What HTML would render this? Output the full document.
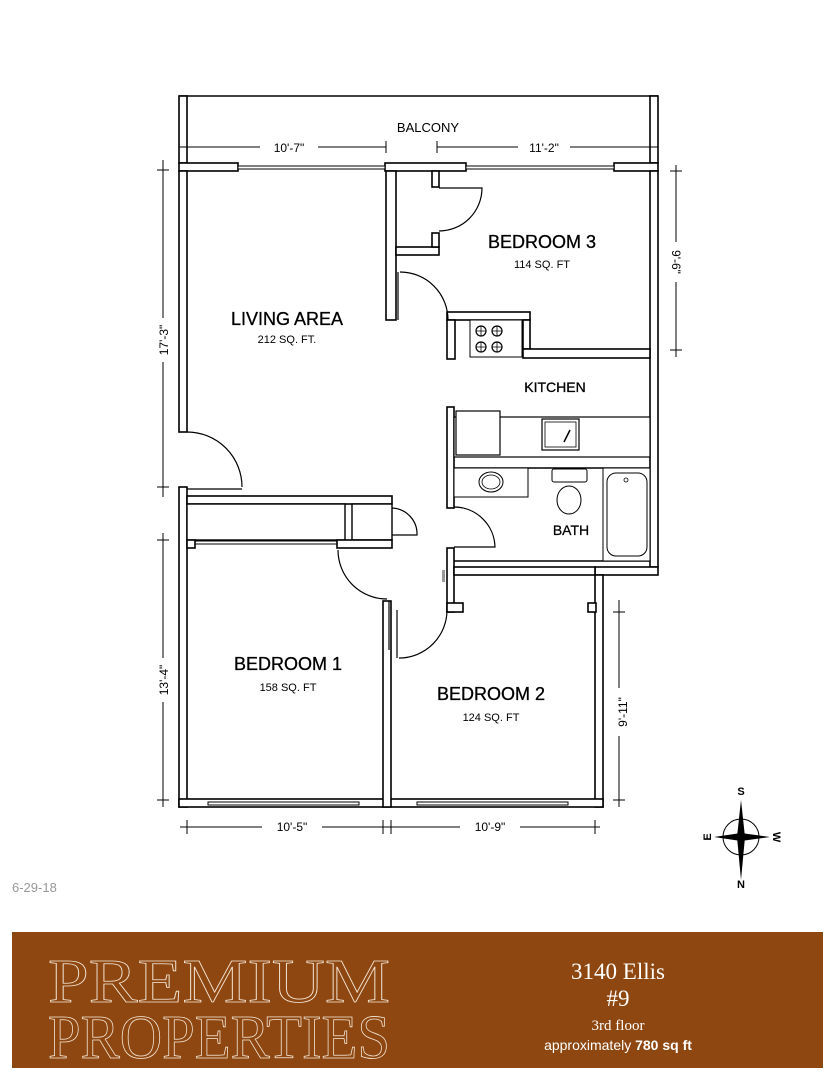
<!DOCTYPE html>
<html><head><meta charset="utf-8"><style>
html,body{margin:0;padding:0;background:#fff;width:835px;height:1080px;overflow:hidden}
svg{display:block}
</style></head><body>
<svg width="835" height="1080" viewBox="0 0 835 1080" xmlns="http://www.w3.org/2000/svg" font-family="Liberation Sans, Arial, sans-serif">
<g fill="#fff" stroke="#000" stroke-width="1.6">
<line x1="179" y1="96" x2="658" y2="96"/>
<rect x="179" y="96" width="8" height="67"/>
<rect x="650" y="96" width="8" height="67"/>
<rect x="179" y="163" width="59" height="8"/>
<rect x="385" y="163" width="81" height="8"/>
<rect x="614" y="163" width="44" height="8"/>
<rect x="238" y="166" width="147" height="3" stroke-width="1"/>
<rect x="466" y="166" width="148" height="3" stroke-width="1"/>
<rect x="179" y="171" width="8" height="261"/>
<rect x="179" y="487" width="8" height="320"/>
<rect x="650" y="171" width="8" height="396"/>
<rect x="595" y="567" width="63" height="8"/>
<rect x="595" y="575" width="8" height="232"/>
<rect x="179" y="799" width="424" height="8"/>
<rect x="208" y="802" width="151" height="3" stroke-width="1"/>
<rect x="417" y="802" width="151" height="3" stroke-width="1"/>
<rect x="386" y="171" width="10" height="149"/>
<rect x="396" y="247" width="43" height="8"/>
<rect x="432" y="171" width="7" height="16"/>
<rect x="432" y="233" width="7" height="14"/>
<rect x="447" y="312" width="83" height="8"/>
<rect x="447" y="320" width="8" height="39"/>
<rect x="523" y="320" width="7" height="29"/>
<rect x="523" y="349" width="127" height="9"/>
<rect x="470" y="320" width="52" height="37" stroke-width="1"/>
<rect x="447" y="407" width="7" height="101"/>
<rect x="454" y="417" width="196" height="40" stroke-width="1.2"/>
<rect x="456" y="411" width="44" height="44" stroke-width="1.2"/>
<rect x="542" y="419" width="37" height="31" stroke-width="1.2"/>
<rect x="545" y="422" width="31" height="25" stroke-width="0.8"/>
<line x1="454" y1="468" x2="650" y2="468"/>
<line x1="454" y1="561" x2="650" y2="561"/>
<rect x="454" y="468" width="74" height="29" stroke-width="1"/>
<ellipse cx="491" cy="482" rx="12" ry="10" stroke-width="1"/>
<ellipse cx="491" cy="482" rx="9" ry="7" stroke-width="0.8"/>
<rect x="552" y="469" width="35" height="13" rx="2" stroke-width="1"/>
<ellipse cx="569" cy="500" rx="12" ry="14" stroke-width="1"/>
<rect x="603" y="468" width="47" height="93" stroke-width="1"/>
<rect x="607" y="473" width="40" height="83" rx="9" stroke-width="1"/>
<circle cx="626" cy="480" r="2" stroke-width="0.8"/>
<rect x="447" y="548" width="7" height="64"/>
<rect x="447" y="603" width="16" height="9"/>
<rect x="454" y="567" width="141" height="8"/>
<rect x="588" y="603" width="8" height="9"/>
<rect x="187" y="496" width="205" height="8"/>
<rect x="187" y="504" width="158" height="36" stroke-width="1.4"/>
<rect x="195" y="541" width="142" height="3" stroke-width="1"/>
<rect x="352" y="504" width="40" height="36" stroke-width="1.4"/>
<rect x="337" y="540" width="55" height="8"/>
<rect x="383" y="601" width="8" height="206"/>
<rect x="187" y="540" width="8" height="8"/>
</g>
<g fill="none" stroke="#000" stroke-width="1.2">
<path d="M439 188 H482 A43 43 0 0 1 439 231"/>
<path d="M398 272 V320 M400 272 A48 48 0 0 1 448 320"/>
<path d="M187 489 H242 M187 432 A55 55 0 0 1 242 487"/>
<path d="M392 508 A26 26 0 0 1 417 535 H392"/>
<path d="M338 550 A49 49 0 0 0 387 599 M389 601 V650"/>
<path d="M454 547 H495 A41 41 0 0 0 454 507"/>
<path d="M397 610 V658 M399 658 A48 48 0 0 0 447 610"/>
<circle cx="481" cy="331" r="5"/><circle cx="497" cy="331" r="5"/>
<circle cx="481" cy="347" r="5"/><circle cx="497" cy="347" r="5"/>
<path d="M476 331h10M481 326v10M492 331h10M497 326v10M476 347h10M481 342v10M492 347h10M497 342v10" stroke-width="0.8"/>
<path d="M564 442 L570 430" stroke-width="1.5"/>
<g stroke-width="1">
<path d="M179 147 H386 M437 147 H658 M179 141v12M386 141v12M437 141v12M650 141v12"/>
<path d="M163 160 V497 M157 170h12M157 487h12"/>
<path d="M163 533 V807 M157 540h12M157 800h12"/>
<path d="M676 165 V357 M670 171h12M670 350h12"/>
<path d="M619 600 V807 M613 612h12M613 800h12"/>
<path d="M180 827 H600 M187 820v14M383 820v14M391 820v14M595 820v14"/>
</g>
</g>
<rect x="442" y="570" width="3" height="12" fill="#999"/>
<g fill="#000" text-anchor="middle">
<rect x="260" y="140" width="58" height="14" fill="#fff"/>
<rect x="518" y="140" width="52" height="14" fill="#fff"/>
<text x="289" y="152" font-size="12">10'-7"</text>
<text x="544" y="152" font-size="12">11'-2"</text>
<text x="428" y="132" font-size="13">BALCONY</text>
<rect x="155" y="318" width="16" height="44" fill="#fff"/>
<text transform="translate(168,340) rotate(-90)" font-size="12">17'-3"</text>
<rect x="155" y="658" width="16" height="44" fill="#fff"/>
<text transform="translate(168,680) rotate(-90)" font-size="12">13'-4"</text>
<rect x="668" y="242" width="16" height="40" fill="#fff"/>
<text transform="translate(672,262) rotate(90)" font-size="12">9'-6"</text>
<rect x="611" y="688" width="16" height="48" fill="#fff"/>
<text transform="translate(627,712) rotate(-90)" font-size="12">9'-11"</text>
<rect x="262" y="820" width="60" height="14" fill="#fff"/>
<rect x="460" y="820" width="60" height="14" fill="#fff"/>
<text x="292" y="831" font-size="12">10'-5"</text>
<text x="490" y="831" font-size="12">10'-9"</text>
<g stroke="#000" stroke-width="0.3">
<text x="287" y="325" font-size="18">LIVING AREA</text>
<text x="542" y="248" font-size="18">BEDROOM 3</text>
<text x="555" y="392" font-size="14">KITCHEN</text>
<text x="571" y="535" font-size="14">BATH</text>
<text x="288" y="670" font-size="18">BEDROOM 1</text>
<text x="491" y="700" font-size="18">BEDROOM 2</text>
</g>
<text x="287" y="343" font-size="11">212 SQ. FT.</text>
<text x="542" y="268" font-size="11">114 SQ. FT</text>
<text x="288" y="691" font-size="11">158 SQ. FT</text>
<text x="491" y="721" font-size="11">124 SQ. FT</text>
</g>
<text x="12" y="892" font-size="13" fill="#999">6-29-18</text>
<g>
<circle cx="741" cy="837" r="18" fill="none" stroke="#000" stroke-width="1"/>
<path d="M741 800 L745 837 L741 880 L737 837Z" fill="#000"/>
<path d="M714 837 L741 833 L770 837 L741 841Z" fill="#000"/>
<text x="741" y="795" font-size="11" font-weight="bold" text-anchor="middle">S</text>
<text x="741" y="888" font-size="11" font-weight="bold" text-anchor="middle">N</text>
<text transform="translate(711,837) rotate(-90)" font-size="11" font-weight="bold" text-anchor="middle">E</text>
<text transform="translate(773,837) rotate(90)" font-size="11" font-weight="bold" text-anchor="middle">W</text>
</g>
<rect x="12" y="932" width="811" height="136" fill="#8e4710"/>
<g font-family="Liberation Serif, serif" fill="none" stroke="#f4e6d6" stroke-width="0.8">
<text x="48" y="1002" font-size="62" textLength="342" lengthAdjust="spacingAndGlyphs">PREMIUM</text>
<text x="48" y="1058" font-size="62" textLength="342" lengthAdjust="spacingAndGlyphs">PROPERTIES</text>
</g>
<g fill="#fff" text-anchor="middle">
<text x="618" y="979" font-size="23" font-family="Liberation Serif, serif">3140 Ellis</text>
<text x="618" y="1006" font-size="23" font-family="Liberation Serif, serif">#9</text>
<text x="618" y="1030" font-size="15" font-family="Liberation Serif, serif">3rd floor</text>
<text x="618" y="1050" font-size="14">approximately <tspan font-weight="bold">780 sq ft</tspan></text>
</g>
</svg>
</body></html>
